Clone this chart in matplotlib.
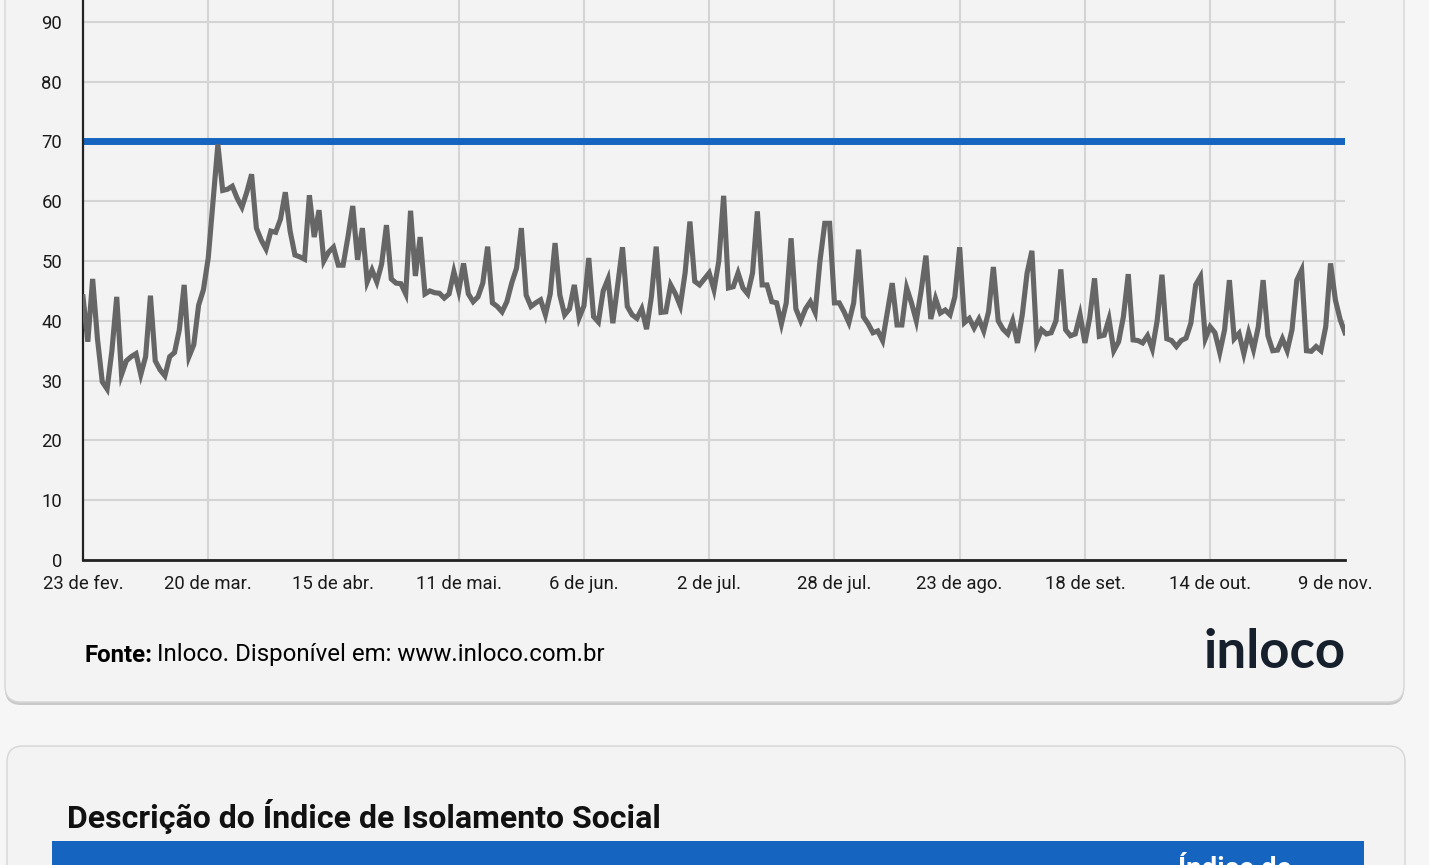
import numpy as np
import pandas as pd
import matplotlib
matplotlib.use("Agg")
import matplotlib.pyplot as plt
from matplotlib.patches import FancyBboxPatch, Rectangle
from matplotlib.transforms import IdentityTransform

# daily social isolation index (%), from 23 Feb 2020
isolamento = [
    44, 36.5, 47, 37, 29.8, 28.6, 35, 44, 31, 33.3, 34, 34.5, 31, 34,
    44.2, 33.3, 31.8, 30.8, 34, 34.7, 38.5, 46, 34, 36, 42.6, 45.2, 50.5, 60,
    69.5, 61.8, 62, 62.5, 60.5, 59, 61.5, 64.5, 55.5, 53.5, 52, 55, 54.8, 57,
    61.5, 55, 51, 50.7, 50.3, 61, 54, 58.5, 50, 51.5, 52.3, 49.3, 49.3, 54,
    59.2, 50.2, 55.5, 46.5, 48.5, 46.5, 49.5, 56, 47, 46.3, 46.2, 44.5, 58.4, 47.5,
    54, 44.5, 45, 44.7, 44.6, 43.8, 44.5, 48.2, 45, 49.6, 44.5, 43.2, 44, 46.3,
    52.4, 43, 42.4, 41.5, 43.2, 46.3, 48.8, 55.5, 44.3, 42.4, 43, 43.5, 41, 44.5,
    53, 44.3, 41, 42, 46, 40.5, 42.5, 50.5, 40.7, 39.8, 45, 47, 39.6, 46,
    52.3, 42.4, 41, 40.4, 42, 38.6, 44, 52.4, 41.4, 41.5, 46, 44.5, 42.5, 48,
    56.6, 46.6, 46, 47, 48, 45.2, 50, 60.9, 45.5, 45.7, 48, 45.5, 44.5, 48,
    58.3, 46, 46, 43.2, 43, 39.5, 43, 53.8, 42, 40, 42, 43.2, 41.4, 50,
    56.3, 56.3, 43, 43, 41.5, 39.7, 43, 51.9, 40.7, 39.5, 38, 38.3, 36.7, 41.5,
    46.3, 39.3, 39.3, 45.5, 43, 40, 45, 50.9, 40.3, 43.7, 41.3, 41.8, 41, 44,
    52.3, 39.7, 40.4, 38.8, 40.3, 38.3, 41.5, 49, 40, 38.6, 37.8, 40, 36.3, 41,
    48, 51.7, 36.5, 38.5, 37.8, 38, 40, 48.6, 38.5, 37.5, 37.8, 41, 36.3, 40.5,
    47.1, 37.4, 37.6, 40.3, 35, 36.5, 40.7, 47.8, 36.8, 36.7, 36.3, 37.5, 35.3, 40,
    47.7, 37, 36.7, 35.7, 36.7, 37.1, 39.6, 46, 47.4, 37, 39, 38, 34.7, 38.5,
    46.8, 37, 37.9, 34.5, 38, 35.2, 39, 46.8, 37.5, 35, 35.1, 37, 35, 38.5,
    46.8, 48.5, 35, 34.9, 35.7, 35, 39, 49.6, 43.5, 40.2, 38,
]
meta = 70
inicio = "2020-02-23"
tick_labels = ["23 de fev.", "20 de mar.", "15 de abr.", "11 de mai.", "6 de jun.",
               "2 de jul.", "28 de jul.", "23 de ago.", "18 de set.", "14 de out.",
               "9 de nov."]
y_ticks = [0, 10, 20, 30, 40, 50, 60, 70, 80, 90]

W, H = 1429, 865
plt.rcParams["font.family"] = ["Roboto", "DejaVu Sans"]
fig = plt.figure(figsize=(W / 100, H / 100), dpi=100)
fig.patch.set_facecolor("#f6f6f6")

px = IdentityTransform()


def card(x0, y0_img, x1, y1_img):
    # y given from the top of the image, drawn in display pixels
    b = H - y1_img
    h = y1_img - y0_img
    shadow = FancyBboxPatch((x0, b - 3), x1 - x0, h, boxstyle="round,pad=0,rounding_size=16",
                            transform=px, facecolor="#c4c4c4", edgecolor="none", alpha=0.9,
                            zorder=-10)
    body = FancyBboxPatch((x0, b), x1 - x0, h, boxstyle="round,pad=0,rounding_size=16",
                          transform=px, facecolor="#f3f3f3", edgecolor="#d6d6d6", linewidth=1,
                          zorder=-9)
    fig.patches.extend([shadow, body])


card(5, -60, 1404, 702)
card(7, 746, 1405, 960)

dates = pd.date_range(inicio, periods=len(isolamento), freq="D")
days = np.arange(len(isolamento))

ax = fig.add_axes([83 / W, (H - 560) / H, (1345 - 83) / W, (560 + 38) / H])
ax.set_zorder(5)
ax.set_facecolor("#f3f3f3")
ax.plot(days, isolamento, color="#666666", linewidth=3.7, solid_joinstyle="miter", zorder=3)
ax.axhline(meta, color="#1565c0", linewidth=5, zorder=2)

ax.set_xlim(0, len(isolamento) - 1)
ax.set_ylim(0, 100)
ax.set_yticks(y_ticks)
ax.set_xticks(days[::26])
ax.set_xticklabels(tick_labels)
ax.grid(True, color="#d4d4d4", linewidth=1.5, zorder=0)
ax.axhline(100, color="#d4d4d4", linewidth=1.5, zorder=0)
ax.set_axisbelow(True)
ax.tick_params(axis="both", length=0, labelsize=13.3, labelcolor="#1a1a1a")
ax.tick_params(axis="y", pad=15)
ax.tick_params(axis="x", pad=11)
for s in ["top", "right"]:
    ax.spines[s].set_visible(False)
ax.spines["left"].set_linewidth(1.6)
ax.spines["bottom"].set_linewidth(2)
ax.spines["left"].set_color("#222222")
ax.spines["bottom"].set_color("#222222")

# footer
t = fig.text(84 / W, (H - 655) / H, "Fonte:", fontsize=17.3, fontweight="bold", va="center", ha="left")
fig.canvas.draw()
bb = t.get_window_extent()
fig.text((bb.x1 + 5) / W, (H - 655) / H, "Inloco. Disponível em: www.inloco.com.br",
         fontsize=17.3, va="center", ha="left")
fig.text(1346 / W, (H - 668) / H, "inloco", fontsize=38, fontweight="bold",
         family=["Lato", "DejaVu Sans"], color="#15202c", ha="right", va="baseline")

# second card
fig.text(67 / W, (H - 816) / H, "Descrição do Índice de Isolamento Social", fontsize=23,
         fontweight="bold", va="center", ha="left", color="#111111")
fig.patches.append(Rectangle((52, 0), 1364 - 52, 865 - 841, transform=px,
                             facecolor="#1565c0", edgecolor="none"))
fig.text(1235 / W, (H - 877) / H, "Índice de", fontsize=20, fontweight="bold",
         color="white", ha="center", va="baseline")

fig.savefig("out.png", dpi=100, facecolor=fig.get_facecolor())
